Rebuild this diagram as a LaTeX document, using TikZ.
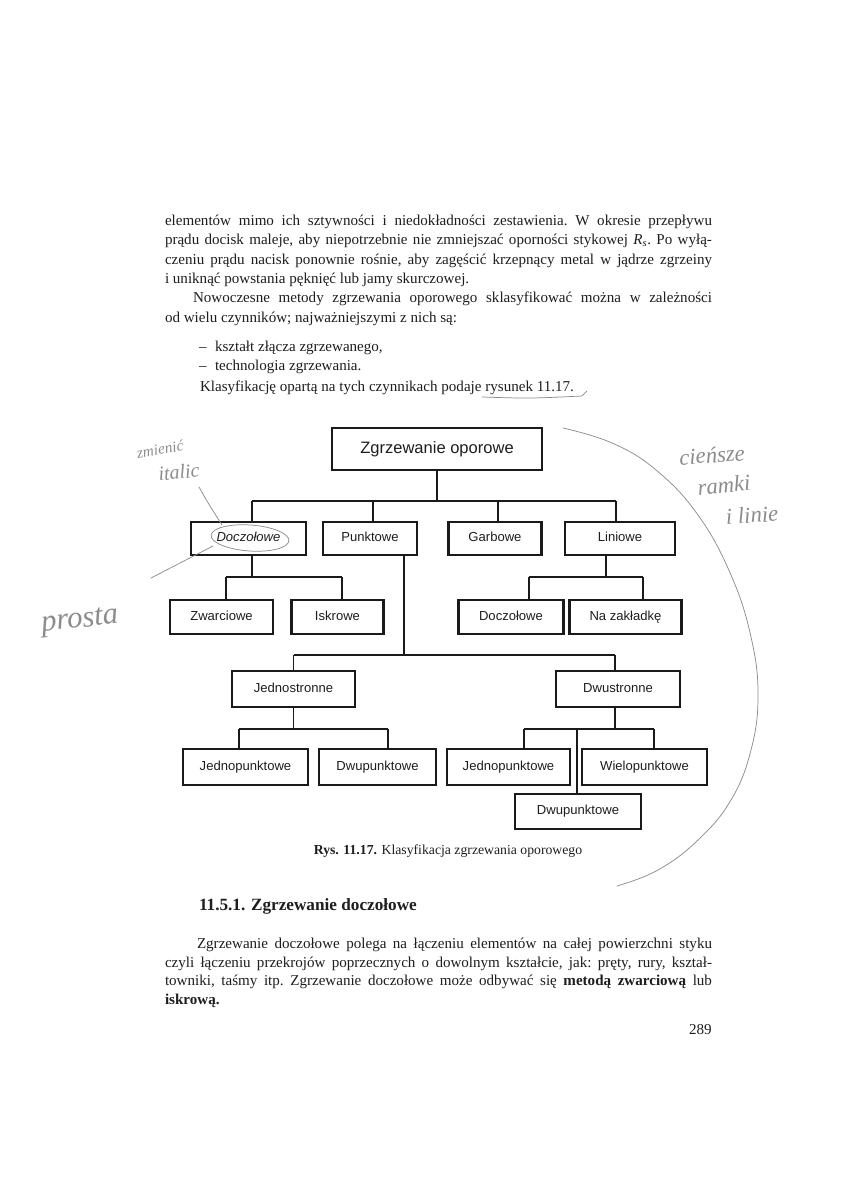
\documentclass[tikz,border=0pt]{standalone}
\usepackage{fontspec}
\setmainfont{Liberation Serif}
\newfontfamily\diagfont{Liberation Sans}
\usetikzlibrary{calc}
\definecolor{ink}{HTML}{1E1E1E}
\definecolor{boxline}{HTML}{1A1A1A}
\definecolor{pencil}{HTML}{8C8C8C}
\newcommand{\bodysize}{\fontsize{11.3}{13.6}\selectfont\frenchspacing}
\newcommand{\JL}[2]{\makebox[#1][s]{#2}}
\begin{document}
\begin{tikzpicture}[x=0.75pt,y=-0.75pt,
  txt/.style={anchor=base west, inner sep=0pt, outer sep=0pt, font=\bodysize, text=ink},
  cbox/.style={draw=boxline, line width=2.2pt, inner sep=0pt, fill=white, text=ink,
    text height=7.1pt, text depth=2pt, font=\diagfont\fontsize{9.8}{11}\selectfont},
  conn/.style={draw=boxline, line width=1.1pt},
  pen/.style={draw=pencil, line width=0.55pt, line cap=round},
  hand/.style={text=pencil, inner sep=0pt, font=\itshape}
]
\fill[white] (0,0) rectangle (864,1188);
\useasboundingbox (0,0) rectangle (864,1188);

% ---------- upper text ----------
\node[txt] (l1) at (165,225.5) {\JL{410.25pt}{elementów mimo ich sztywności i niedokładności zestawienia. W okresie przepływu}};
\node[txt] (l2) at (165,244.7) {\JL{410.25pt}{prądu docisk maleje, aby niepotrzebnie nie zmniejszać oporności stykowej \textit{R}\textsubscript{\textit{s}}. Po wyłą-}};
\node[txt] (l3) at (165,264) {\JL{410.25pt}{czeniu prądu nacisk ponownie rośnie, aby zagęścić krzepnący metal w jądrze zgrzeiny}};
\node[txt] (l4) at (165,283.3) {i uniknąć powstania pęknięć lub jamy skurczowej.};
\node[txt] (l5) at (193,302.6) {\JL{389.25pt}{Nowoczesne metody zgrzewania oporowego sklasyfikować można w zależności}};
\node[txt] (l6) at (165,322) {od wielu czynników; najważniejszymi z nich są:};
\node[txt] (d1) at (199,351) {–};
\node[txt] (i1) at (215,351) {kształt złącza zgrzewanego,};
\node[txt] (d2) at (199,370.5) {–};
\node[txt] (i2) at (215,370.5) {technologia zgrzewania.};
\node[txt] (kl) at (200,391) {Klasyfikację opartą na tych czynnikach podaje};
\node[txt] (rys) at ($(kl.base east)+(3.8,0)$) {rysunek 11.17.};
\draw[pen] ($(rys.base west)+(-3,6)$) .. controls ($(rys.base)+(0,7.5)$) .. ($(rys.base east)+(8,5)$) -- ($(rys.base east)+(13,0)$);

% ---------- diagram ----------
\node[cbox, font=\diagfont\fontsize{12.4}{14}\selectfont, text height=9pt, text depth=2.6pt, minimum width=157.5pt, minimum height=31.5pt] (top) at (437,449) {Zgrzewanie oporowe};

\node[cbox, minimum width=86.25pt, minimum height=24.75pt] (doc) at (248.5,538.5) {\textit{Doczołowe}};
\node[cbox, minimum width=70.5pt, minimum height=24.75pt] (punk) at (370,538.5) {Punktowe};
\node[cbox, minimum width=69.75pt, minimum height=24.75pt] (garb) at (495,538.5) {Garbowe};
\node[cbox, minimum width=82.5pt, minimum height=24.75pt] (lin) at (620,538.5) {Liniowe};

\node[cbox, minimum width=77.25pt, minimum height=25.5pt] (zwar) at (221.5,617) {Zwarciowe};
\node[cbox, minimum width=69pt, minimum height=25.5pt] (iskr) at (337.5,617) {Iskrowe};
\node[cbox, minimum width=78.75pt, minimum height=25.5pt] (doc2) at (511,617) {Doczołowe};
\node[cbox, minimum width=84pt, minimum height=25.5pt] (zakl) at (625.5,617) {Na zakładkę};

\node[cbox, minimum width=92.25pt, minimum height=27pt] (jedn) at (293.5,689) {Jednostronne};
\node[cbox, minimum width=93pt, minimum height=27pt] (dwus) at (618,689) {Dwustronne};

\node[cbox, minimum width=93.75pt, minimum height=27pt] (jp1) at (245.5,767) {Jednopunktowe};
\node[cbox, minimum width=87.75pt, minimum height=27pt] (dp1) at (377.5,767) {Dwupunktowe};
\node[cbox, minimum width=92.25pt, minimum height=27pt] (jp2) at (508.5,767) {Jednopunktowe};
\node[cbox, minimum width=93.75pt, minimum height=27pt] (wp) at (644.5,767) {Wielopunktowe};
\node[cbox, minimum width=94.5pt, minimum height=26.25pt] (dp2) at (578,811.5) {Dwupunktowe};

% connectors level 1
\coordinate (t1) at (437,501);
\coordinate (b1l) at (252,501);
\coordinate (b1p) at (373,501);
\coordinate (b1g) at (498,501);
\coordinate (b1r) at (616,501);
\draw[conn] (top.south) -- (t1);
\draw[conn] (b1l) -- (b1r);
\draw[conn] (b1l) -- (b1l |- doc.north);
\draw[conn] (b1p) -- (b1p |- punk.north);
\draw[conn] (b1g) -- (b1g |- garb.north);
\draw[conn] (b1r) -- (b1r |- lin.north);

% Doczolowe branch
\coordinate (b2) at (252,577);
\coordinate (b2l) at (226,577);
\coordinate (b2r) at (342,577);
\draw[conn] (b2 |- doc.south) -- (b2);
\draw[conn] (b2l) -- (b2r);
\draw[conn] (b2l) -- (b2l |- zwar.north);
\draw[conn] (b2r) -- (b2r |- iskr.north);

% Liniowe branch
\coordinate (b3) at (606,577);
\coordinate (b3l) at (529,577);
\coordinate (b3r) at (643,577);
\draw[conn] (b3 |- lin.south) -- (b3);
\draw[conn] (b3l) -- (b3r);
\draw[conn] (b3l) -- (b3l |- doc2.north);
\draw[conn] (b3r) -- (b3r |- zakl.north);

% Punktowe branch
\coordinate (b4) at (404,655);
\coordinate (b4l) at (293.5,655);
\coordinate (b4r) at (615,655);
\draw[conn] (b4 |- punk.south) -- (b4);
\draw[conn] (b4l) -- (b4r);
\draw[conn] (b4l) -- (b4l |- jedn.north);
\draw[conn] (b4r) -- (b4r |- dwus.north);

% Jednostronne branch
\coordinate (b5) at (293.5,729);
\coordinate (b5l) at (239,729);
\coordinate (b5r) at (388,729);
\draw[conn] (jedn.south) -- (b5);
\draw[conn] (b5l) -- (b5r);
\draw[conn] (b5l) -- (b5l |- jp1.north);
\draw[conn] (b5r) -- (b5r |- dp1.north);

% Dwustronne branch
\coordinate (b6) at (615,729);
\coordinate (b6l) at (524,729);
\coordinate (b6m) at (577,729);
\coordinate (b6r) at (654,729);
\draw[conn] (b6 |- dwus.south) -- (b6);
\draw[conn] (b6l) -- (b6r);
\draw[conn] (b6l) -- (b6l |- jp2.north);
\draw[conn] (b6r) -- (b6r |- wp.north);
\draw[conn] (b6m) -- (b6m |- dp2.north);

% ---------- caption and lower text ----------
\node[anchor=base, inner sep=0pt, text=ink, font=\fontsize{10.3}{12}\selectfont] (cap) at (448,854) {\textbf{Rys. 11.17.} Klasyfikacja zgrzewania oporowego};
\node[txt, font=\fontsize{12.9}{15}\selectfont\bfseries] (head) at (199,910) {11.5.1. Zgrzewanie doczołowe};
\node[txt] (p1) at (197,948) {\JL{386.25pt}{Zgrzewanie doczołowe polega na łączeniu elementów na całej powierzchni styku}};
\node[txt] (p2) at (165,967) {\JL{410.25pt}{czyli łączeniu przekrojów poprzecznych o dowolnym kształcie, jak: pręty, rury, kształ-}};
\node[txt] (p3) at (165,985.5) {\JL{410.25pt}{towniki, taśmy itp. Zgrzewanie doczołowe może odbywać się \textbf{metodą zwarciową} lub}};
\node[txt] (p4) at (165,1004) {\textbf{iskrową.}};
\node[anchor=base east, inner sep=0pt, text=ink, font=\bodysize] (pg) at (712,1034) {289};

% ---------- pencil annotations ----------
\node[hand, font=\itshape\fontsize{11.5}{12}\selectfont, rotate=10] (zm) at (160,449) {zmienić};
\node[hand, font=\itshape\fontsize{15}{16}\selectfont, rotate=5] (ital) at (179,472) {italic};
\draw[pen] (199,487) .. controls (208,503) .. (222,525);
\draw[pen, rotate around={-4:(250,538)}] (250,538) ellipse [x radius=39, y radius=13];
\draw[pen] (213,546) -- (151,578);
\node[hand, font=\itshape\fontsize{23}{25}\selectfont, rotate=6] (pr) at (80,622) {prosta};

\node[hand, font=\itshape\fontsize{17}{18}\selectfont, rotate=4] (c1) at (712,455) {cieńsze};
\node[hand, font=\itshape\fontsize{17}{18}\selectfont, rotate=5] (c2) at (724,485) {ramki};
\node[hand, font=\itshape\fontsize{17}{18}\selectfont, rotate=4] (c3) at (752,515) {i linie};

\draw[pen] plot[smooth, tension=0.7] coordinates {(563,428) (612,443) (656,470) (698,515) (731,575) (751,637) (758,695) (751,750) (731,800) (698,840) (658,870) (617,886)};
\end{tikzpicture}
\end{document}
